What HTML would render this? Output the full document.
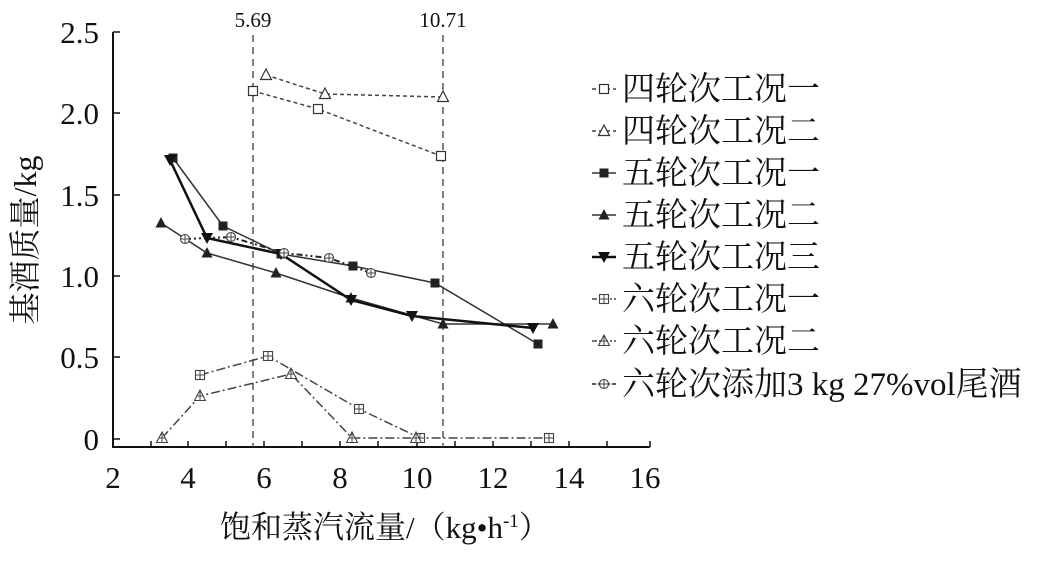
<!DOCTYPE html>
<html><head><meta charset="utf-8"><style>
body{margin:0;background:#fff}
svg text{font-family:"Liberation Serif","Noto Serif CJK SC",serif;fill:#111}
</style></head><body>
<svg width="1038" height="562" viewBox="0 0 1038 562" xmlns="http://www.w3.org/2000/svg">
<defs>
<g id="sqo"><rect x="-4.5" y="-4.5" width="9" height="9" fill="#fff" stroke="#333" stroke-width="1.2"/></g>
<g id="tro"><polygon points="0,-6 5.5,4.5 -5.5,4.5" fill="#fff" stroke="#333" stroke-width="1.2"/></g>
<g id="sqf"><rect x="-4.5" y="-4.5" width="9" height="9" fill="#222"/></g>
<g id="trf"><polygon points="0,-6 5.5,4.5 -5.5,4.5" fill="#222"/></g>
<g id="trd"><polygon points="0,6 6,-5 -6,-5" fill="#111"/></g>
<g id="sqp"><rect x="-4.5" y="-4.5" width="9" height="9" fill="#fff" stroke="#444" stroke-width="1.1"/><path d="M0-4.5V4.5M-4.5 0H4.5" stroke="#444" stroke-width="1"/></g>
<g id="trp"><polygon points="0,-6 5.5,4.5 -5.5,4.5" fill="#fff" stroke="#444" stroke-width="1.1"/><path d="M0-6V4.5M-3 0H3" stroke="#444" stroke-width="1"/></g>
<g id="cp"><circle r="4.5" fill="#fff" stroke="#444" stroke-width="1.1"/><path d="M0-4.5V4.5M-4.5 0H4.5" stroke="#444" stroke-width="1"/></g>
</defs>
<g stroke="#111" stroke-width="2" fill="none">
<path d="M113 32V447H650"/>
</g>
<g stroke="#111" stroke-width="1.5">
<path d="M113 32H120M113 113H120M113 195H120M113 276H120M113 357H120M113 439H120"/>
<path d="M151 447V441M188 447V441M226 447V441M264 447V441M302 447V441M340 447V441M378 447V441M417 447V441M455 447V441M493 447V441M531 447V441M569 447V441M607 447V441M650 447V441"/>
</g>
<g font-size="31" text-anchor="end">
<text x="99" y="43">2.5</text><text x="99" y="124">2.0</text><text x="99" y="206">1.5</text>
<text x="99" y="287">1.0</text><text x="99" y="368">0.5</text><text x="99" y="450">0</text>
</g>
<g font-size="31" text-anchor="middle">
<text x="113" y="488">2</text><text x="188" y="488">4</text><text x="264" y="488">6</text><text x="340" y="488">8</text>
<text x="417" y="488">10</text><text x="493" y="488">12</text><text x="569" y="488">14</text><text x="645" y="488">16</text>
</g>
<text x="36" y="240" font-size="32" text-anchor="middle" transform="rotate(-90 36 240)">基酒质量/kg</text>
<text x="220" y="538" font-size="31">饱和蒸汽流量/（kg•h<tspan font-size="19" dy="-11">-1</tspan><tspan dy="11">）</tspan></text>
<g stroke="#555" stroke-width="1.5" stroke-dasharray="7,5">
<path d="M253 35V447M443 35V447"/>
</g>
<text x="253" y="27" font-size="21" text-anchor="middle">5.69</text>
<text x="443" y="27" font-size="21" text-anchor="middle">10.71</text>
<g fill="none" stroke-width="1.5">
<polyline points="253,91 318,109 441,156" stroke="#444" stroke-dasharray="4,3"/>
<polyline points="266,75 325,94 443,97" stroke="#444" stroke-dasharray="4,3"/>
<polyline points="173,158 223,226 281,254 353,266 435,283 538,344" stroke="#333"/>
<polyline points="161,223 207,253 276,273 351,298 443,324 553,324" stroke="#333"/>
<polyline points="170,160 207,238 281,254 351,300 412,316 533,328" stroke="#111" stroke-width="2.5"/>
<polyline points="200,375 268,356 359,409 420,438 549,438" stroke="#444" stroke-dasharray="9,3,2,3"/>
<polyline points="162,438 200,396 291,374 352,438 416,438" stroke="#444" stroke-dasharray="9,3,2,3"/>
<polyline points="185,239 231,237 284,253 329,258 371,273" stroke="#222" stroke-width="2" stroke-dasharray="6,3,2,3,2,3"/>
</g>
<use href="#sqo" x="253" y="91"/><use href="#sqo" x="318" y="109"/><use href="#sqo" x="441" y="156"/>
<use href="#tro" x="266" y="75"/><use href="#tro" x="325" y="94"/><use href="#tro" x="443" y="97"/>
<use href="#sqf" x="173" y="158"/><use href="#sqf" x="223" y="226"/><use href="#sqf" x="281" y="254"/><use href="#sqf" x="353" y="266"/><use href="#sqf" x="435" y="283"/><use href="#sqf" x="538" y="344"/>
<use href="#trf" x="161" y="223"/><use href="#trf" x="207" y="253"/><use href="#trf" x="276" y="273"/><use href="#trf" x="351" y="298"/><use href="#trf" x="443" y="324"/><use href="#trf" x="553" y="324"/>
<use href="#trd" x="170" y="160"/><use href="#trd" x="207" y="238"/><use href="#trd" x="281" y="254"/><use href="#trd" x="351" y="300"/><use href="#trd" x="412" y="316"/><use href="#trd" x="533" y="328"/>
<use href="#sqp" x="200" y="375"/><use href="#sqp" x="268" y="356"/><use href="#sqp" x="359" y="409"/><use href="#sqp" x="420" y="438"/><use href="#sqp" x="549" y="438"/>
<use href="#trp" x="162" y="438"/><use href="#trp" x="200" y="396"/><use href="#trp" x="291" y="374"/><use href="#trp" x="352" y="438"/><use href="#trp" x="416" y="438"/>
<use href="#cp" x="185" y="239"/><use href="#cp" x="231" y="237"/><use href="#cp" x="284" y="253"/><use href="#cp" x="329" y="258"/><use href="#cp" x="371" y="273"/>
<g fill="none" stroke-width="1.5">
<path d="M592 89H616" stroke="#444" stroke-dasharray="4,3"/>
<path d="M592 131H616" stroke="#444" stroke-dasharray="4,3"/>
<path d="M592 173H616" stroke="#333"/>
<path d="M592 215H616" stroke="#333"/>
<path d="M592 257H616" stroke="#111" stroke-width="2.5"/>
<path d="M592 299H616" stroke="#444" stroke-dasharray="5,2,2,2"/>
<path d="M592 341H616" stroke="#444" stroke-dasharray="5,2,2,2"/>
<path d="M592 384H616" stroke="#222" stroke-dasharray="4,2,2,2"/>
</g>
<use href="#sqo" x="604" y="89"/><use href="#tro" x="604" y="131"/><use href="#sqf" x="604" y="173"/><use href="#trf" x="604" y="215"/>
<use href="#trd" x="604" y="257"/><use href="#sqp" x="604" y="299"/><use href="#trp" x="604" y="341"/><use href="#cp" x="604" y="384"/>
<g font-size="33">
<text x="622" y="100">四轮次工况一</text>
<text x="622" y="142">四轮次工况二</text>
<text x="622" y="184">五轮次工况一</text>
<text x="622" y="226">五轮次工况二</text>
<text x="622" y="268">五轮次工况三</text>
<text x="622" y="310">六轮次工况一</text>
<text x="622" y="352">六轮次工况二</text>
<text x="622" y="395">六轮次添加3 kg 27%vol尾酒</text>
</g>
</svg>
</body></html>
